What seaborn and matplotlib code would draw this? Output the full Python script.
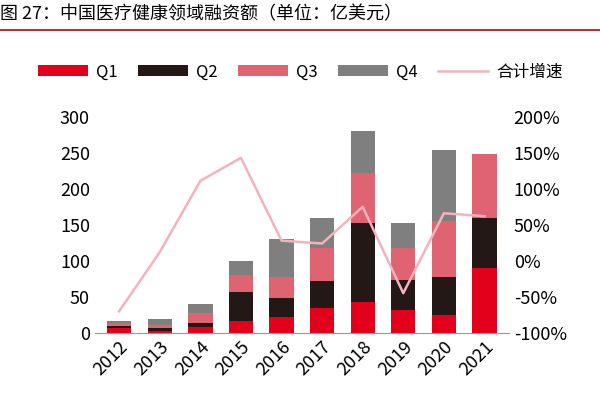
import numpy as np
import pandas as pd
import matplotlib
matplotlib.use('Agg')
import matplotlib.pyplot as plt
import seaborn as sns

plt.rcParams['font.family'] = ['Noto Sans CJK SC', 'DejaVu Sans']

years = ['2012', '2013', '2014', '2015', '2016', '2017', '2018', '2019', '2020', '2021']
q1 = [6, 3, 8, 17, 22, 35, 43, 32, 25, 90]
q2 = [4, 3, 6, 40, 26, 37, 109, 41, 53, 70]
q3 = [4, 5, 13, 23, 29, 46, 70, 45, 77, 89]
q4 = [3, 8, 13, 20, 53, 42, 58, 35, 99, 0]
growth = [-70, 12, 111, 143, 28, 24, 75, -45, 66, 62]

colors = {'Q1': '#e2001a', 'Q2': '#231815', 'Q3': '#df6370', 'Q4': '#7f7f7f'}

df = pd.DataFrame({'year': years, 'Q1': q1, 'Q2': q2, 'Q3': q3, 'Q4': q4})

fig = plt.figure(figsize=(6, 4), dpi=100)
ax = fig.add_axes([0.158, 0.168, 0.69, 0.54])
x = np.arange(len(years))

# stacked bars
bottom = np.zeros(len(years))
for q in ['Q1', 'Q2', 'Q3', 'Q4']:
    ax.bar(x, df[q], bottom=bottom, color=colors[q], width=0.6, label=q)
    bottom += df[q].values

ax.set_ylim(0, 300)
ax.set_yticks(range(0, 301, 50))
ax.set_xlim(-0.6, len(years) - 0.4)
ax.set_xticks(x)
ax.set_xticklabels(years, rotation=45, ha='right', rotation_mode='anchor')
ax.tick_params(axis='both', labelsize=13, length=0)
for s in ['top', 'right', 'left']:
    ax.spines[s].set_visible(False)
ax.spines['bottom'].set_color('#999999')

ax2 = ax.twinx()
sns.lineplot(x=x, y=growth, ax=ax2, color='#f4b2bc', linewidth=1.8, label='合计增速', legend=False)
ax2.set_ylim(-100, 200)
ax2.set_yticks(range(-100, 201, 50))
ax2.set_yticklabels([f'{v}%' for v in range(-100, 201, 50)])
ax2.tick_params(axis='y', labelsize=13, length=0)
for s in ax2.spines.values():
    s.set_visible(False)

h1, l1 = ax.get_legend_handles_labels()
h2, l2 = ax2.get_legend_handles_labels()
fig.legend(h1 + h2, l1 + l2, loc='center', bbox_to_anchor=(0.5, 0.82), ncol=5,
           frameon=False, fontsize=12, handlelength=3.0, handleheight=0.6,
           columnspacing=1.2, handletextpad=0.5)

fig.text(0.0, 0.965, '图 27：中国医疗健康领域融资额（单位：亿美元）', fontsize=13, va='center')
fig.add_artist(plt.Line2D([0, 1], [0.925, 0.925], color='#c00000', linewidth=1.2))

fig.savefig('out.png', dpi=100)
